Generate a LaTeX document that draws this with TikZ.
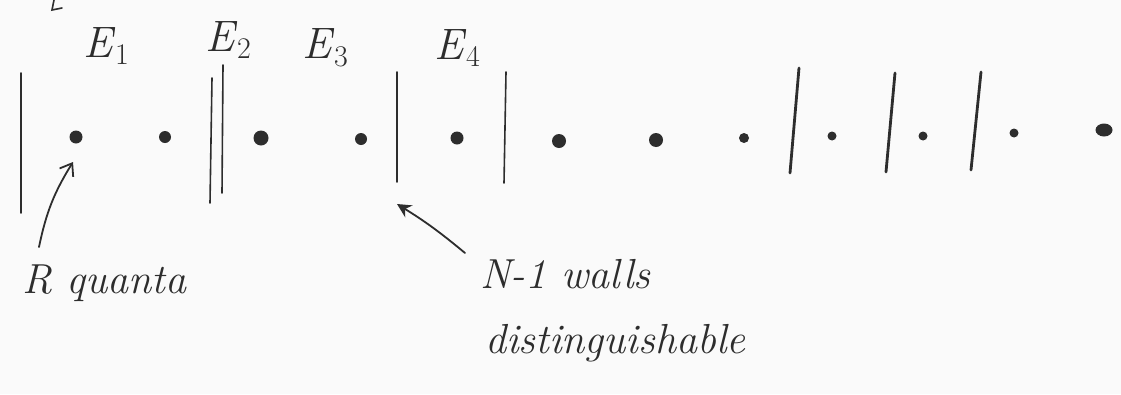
\documentclass[tikz,border=0pt]{standalone}
\usetikzlibrary{arrows.meta,shapes.geometric}
\definecolor{inkc}{RGB}{45,45,45}
\definecolor{paper}{RGB}{250,250,250}
\newcommand{\enlab}[1]{\textit{E}\raisebox{-0.4ex}{\fontsize{30}{32}\selectfont #1}}
\begin{document}
\begin{tikzpicture}[x=1pt,y=-1pt,
  ink/.style={draw=inkc,line cap=round},
  wall/.style={ink,line width=1.6pt},
  thickwall/.style={ink,line width=2.8pt},
  qdot/.style={circle,fill=inkc,inner sep=0pt,minimum size=#1},
  qdot/.default=12pt,
  lab/.style={text=inkc,inner sep=0pt,font=\fontsize{42}{46}\selectfont\itshape},
  elab/.style={text=inkc,inner sep=0pt,font=\fontsize{44}{48}\selectfont},
  arr/.style={ink,line width=1.8pt}]
\fill[paper] (0,0) rectangle (1121,394);
\useasboundingbox (0,0) rectangle (1121,394);

% stray fragment at top edge
\draw[ink,line width=1.6pt] (54,0) -- (52,10) -- (62,8);

% walls
\coordinate (w1t) at (21,73);   \coordinate (w1b) at (21,213);
\coordinate (w2t) at (212,78);  \coordinate (w2b) at (210,203);
\coordinate (w3t) at (223,65);  \coordinate (w3b) at (222,193);
\coordinate (w4t) at (397,72);  \coordinate (w4b) at (397,182);
\coordinate (w5t) at (506,72);  \coordinate (w5b) at (504,183);
\coordinate (w6t) at (799,68);  \coordinate (w6b) at (790,173);
\coordinate (w7t) at (895,73);  \coordinate (w7b) at (886,172);
\coordinate (w8t) at (981,72);  \coordinate (w8b) at (971,170);
\draw[wall] (w1t) -- (w1b);
\draw[wall] (w2t) -- (w2b);
\draw[wall] (w3t) -- (w3b);
\draw[wall] (w4t) -- (w4b);
\draw[wall] (w5t) -- (w5b);
\draw[thickwall] (w6t) -- (w6b);
\draw[thickwall] (w7t) -- (w7b);
\draw[thickwall] (w8t) -- (w8b);

% quanta
\node[qdot=13pt] (d1) at (76,137) {};
\node[qdot=12pt] (d2) at (165,137) {};
\node[qdot=15pt] (d3) at (261,138) {};
\node[qdot=12pt] (d4) at (361,139) {};
\node[qdot=13pt] (d5) at (457,138) {};
\node[qdot=14pt] (d6) at (559,141) {};
\node[qdot=14pt] (d7) at (656,140) {};
\node[qdot=10pt] (d8) at (744,138) {};
\node[qdot=9pt]  (d9) at (832,136) {};
\node[qdot=9pt]  (d10) at (923,136) {};
\node[qdot=9pt]  (d11) at (1014,133) {};
\node[ellipse,fill=inkc,inner sep=0pt,minimum width=17pt,minimum height=13pt] (d12) at (1104,130) {};

% energy labels
\node[elab] (e1) at (106,46) {\enlab{1}};
\node[elab] (e2) at (228,40) {\enlab{2}};
\node[elab] (e3) at (325,48) {\enlab{3}};
\node[elab] (e4) at (457,48) {\enlab{4}};

% annotations
\node[lab,anchor=base west] (rq) at (22,293) {R quanta};
\node[lab,anchor=base west] (nw) at (480,288) {N-1 walls};
\node[lab,anchor=base west] (dg) at (485,353) {distinguishable};

\coordinate (a1s) at (39,247);
\coordinate (a2s) at (465,253);
\draw[arr,-{Straight Barb[length=11pt,width=16pt]}] (a1s) to[bend left=10] ([xshift=-3pt,yshift=-25pt]d1.center);
\draw[arr,-{Stealth[length=14pt,width=14pt]}] (a2s) to[bend right=4] ([yshift=-22pt]w4b);
\end{tikzpicture}
\end{document}
